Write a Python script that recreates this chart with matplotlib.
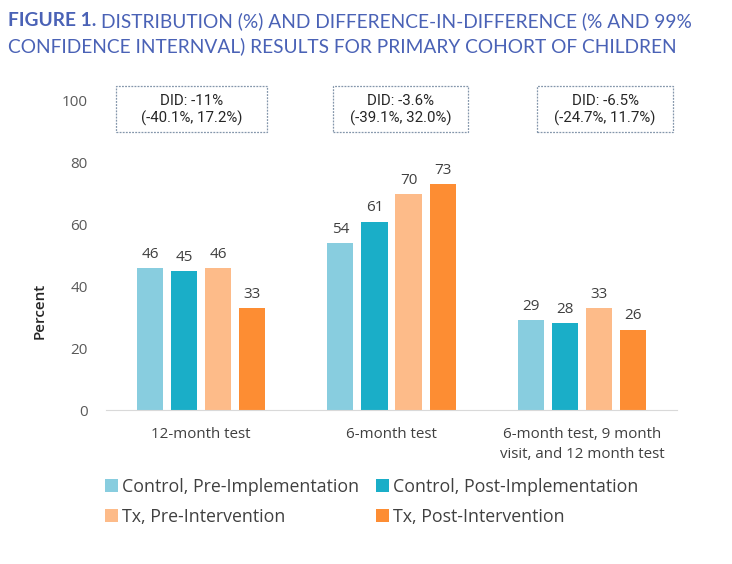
import matplotlib
matplotlib.use("Agg")
import matplotlib.pyplot as plt
from matplotlib.patches import Patch, Rectangle
from matplotlib import font_manager as fm

categories = ["12-month test", "6-month test", "6-month test, 9 month\nvisit, and 12 month test"]
series_names = ["Control, Pre-Implementation", "Control, Post-Implementation",
                "Tx, Pre-Intervention", "Tx, Post-Intervention"]
control_pre = [46, 54, 29]
control_post = [45, 61, 28]
tx_pre = [46, 70, 33]
tx_post = [33, 73, 26]
did_labels = ["DID: -11%\n(-40.1%, 17.2%)", "DID: -3.6%\n(-39.1%, 32.0%)", "DID: -6.5%\n(-24.7%, 11.7%)"]
yticks = [0, 20, 40, 60, 80, 100]

colors = ["#88cddf", "#1aaec8", "#fdbb89", "#fd8d33"]

FONT = "Open Sans"
plt.rcParams['font.family'] = [FONT, 'DejaVu Sans']

title_reg = fm.FontProperties(family=["Lato", "DejaVu Sans"])
title_bold = fm.FontProperties(family=["Lato", "DejaVu Sans"], weight="bold")

fig = plt.figure(figsize=(7.32, 5.64), dpi=100)
ax = fig.add_axes([106/732, 1-410/564, 571/732, 309/564])

series = [control_pre, control_post, tx_pre, tx_post]
w = 0.137
step = 0.179
offsets = [(-1.5 + i) * step for i in range(4)]
for vals, off, c in zip(series, offsets, colors):
    xs = [i + off for i in range(len(categories))]
    bars = ax.bar(xs, vals, width=w, color=c, zorder=2)
    for b, v in zip(bars, vals):
        ax.text(b.get_x() + b.get_width()/2, v + 2.0, f"{v}", ha="center", va="bottom",
                fontsize=11, color="#404040")

ax.set_xlim(-0.5, 2.5)
ax.set_ylim(0, 100)
ax.set_yticks(yticks)
ax.set_xticks(range(len(categories)))
ax.set_xticklabels(categories, fontsize=10.9, color="#404040", linespacing=1.5)
ax.tick_params(axis='y', length=0, pad=13, labelsize=11, labelcolor="#595959")
ax.tick_params(axis='x', length=0, pad=12)
for s in ["top", "right", "left"]:
    ax.spines[s].set_visible(False)
ax.spines["bottom"].set_color("#d9d9d9")
ax.spines["bottom"].set_zorder(3)
ax.set_ylabel("Percent", fontsize=11, color="#262626", fontweight="semibold")
ax.yaxis.set_label_coords((47 - 106) / 571, (410 - 311) / 309)

# DID annotation boxes (centre offset from category, width in category units)
box_dx = [-0.051, 0.047, 0.122]
box_w = [0.793, 0.709, 0.715]
y_bot = (410 - 132) / 3.09
y_top = (410 - 86) / 3.09
for i, (dx, bw, lab) in enumerate(zip(box_dx, box_w, did_labels)):
    cx = i + dx
    ax.add_patch(Rectangle((cx - bw/2, y_bot), bw, y_top - y_bot, fill=False,
                           ec="#8496ab", lw=0.9, ls=(0, (1.5, 1.0)), clip_on=False, zorder=3))
    ax.text(cx, (y_bot + y_top)/2 - 0.3, lab, ha="center", va="center", fontsize=10.8,
            color="#262626", linespacing=1.25, clip_on=False,
            family=["Roboto", "DejaVu Sans"])

order = [0, 2, 1, 3]
handles = [Patch(facecolor=colors[k], edgecolor="none") for k in order]
labels = [series_names[k] for k in order]
fig.legend(handles, labels, loc="upper left", bbox_to_anchor=(105/732, 1-478/564),
           ncol=2, frameon=False, fontsize=12.8, labelcolor="#404040",
           handlelength=0.75, handleheight=0.75, handletextpad=0.2, columnspacing=0.95,
           labelspacing=0.68, borderaxespad=0, borderpad=0)

title_color = "#4a62b6"
r = fig.canvas.get_renderer()
t1a = fig.text(8/732, 1-21/564, "FIGURE 1.", fontproperties=title_bold, color=title_color,
               va="center", ha="left")
t1b = fig.text(0, 1-21/564, "DISTRIBUTION (%) AND DIFFERENCE-IN-DIFFERENCE (% AND 99%",
               fontproperties=title_reg, color=title_color, va="center", ha="left")
t2 = fig.text(8/732, 1-46/564, "CONFIDENCE INTERNVAL) RESULTS FOR PRIMARY COHORT OF CHILDREN",
              fontproperties=title_reg, color=title_color, va="center", ha="left")
base = 13.0
for t in (t1a, t1b, t2):
    t.set_fontsize(base)
wpx = t2.get_window_extent(r).width
size = base * 667 / wpx
for t in (t1a, t1b, t2):
    t.set_fontsize(size)
ea = t1a.get_window_extent(r)
t1b.set_x((ea.x1 + 5) / 732)

fig.savefig("out.png", dpi=100, facecolor="white")
